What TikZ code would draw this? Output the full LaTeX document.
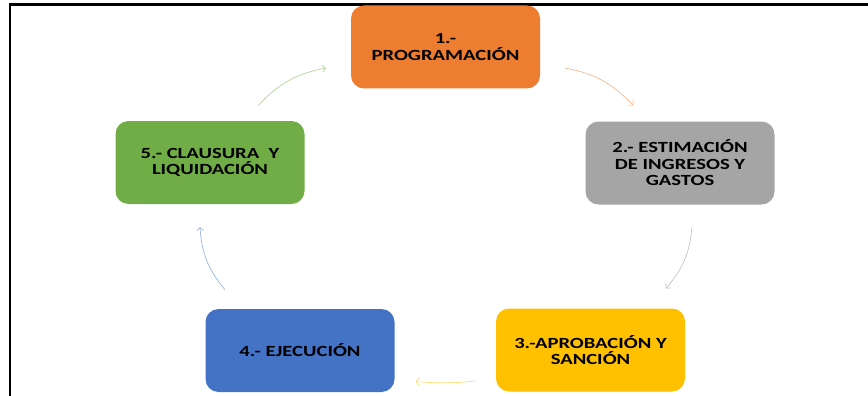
\documentclass[tikz,border=0pt]{standalone}
\usepackage{fontspec}
\setmainfont{Carlito}[FakeStretch=1.33]
\usetikzlibrary{arrows.meta}

\definecolor{naranja}{HTML}{ED7D31}
\definecolor{gris}{HTML}{A5A5A5}
\definecolor{amarillo}{HTML}{FFC000}
\definecolor{azul}{HTML}{4472C4}
\definecolor{verde}{HTML}{70AD47}
\definecolor{naranjaclaro}{HTML}{F4B183}
\definecolor{grisclaro}{HTML}{BFBFBF}
\definecolor{amarilloclaro}{HTML}{FFD966}
\definecolor{azulclaro}{HTML}{8FAADC}
\definecolor{verdeclaro}{HTML}{A9D18E}

\begin{document}
\begin{tikzpicture}
[x=1pt,y=-1pt,
stage/.style={rectangle,rounded corners=13pt,minimum width=189pt,minimum height=83pt,
  align=center,inner sep=2pt,text=black,font=\fontsize{15.5}{16.5}\selectfont\bfseries},
flow/.style={line width=0.6pt,-{Straight Barb[length=3pt,width=7pt]},bend left=18}]
\useasboundingbox (0,0) rectangle (868,396);
\draw[line width=2.4pt] (10,396) -- (10,4.5) -- (868,4.5);
\node (prog) at (445.5,47) [stage,fill=naranja] {1.-\\PROGRAMACIÓN};
\node (esti) at (680,163) [stage,fill=gris] {2.- ESTIMACIÓN\\DE INGRESOS Y\\GASTOS};
\node (apro) at (590.5,350) [stage,fill=amarillo] {3.-APROBACIÓN Y\\SANCIÓN};
\node (ejec) at (300,350.5) [stage,fill=azul] {4.- EJECUCIÓN};
\node (clau) at (210,162.5) [stage,fill=verde] {5.- CLAUSURA\ \ Y\\LIQUIDACIÓN};
\draw[flow,draw=naranjaclaro] ([shift={(25,21)}]prog.east) to ([shift={(-47,-16)}]esti.north);
\draw[flow,draw=grisclaro] ([shift={(12,22)}]esti.south) to ([shift={(75.5,-20)}]apro.north);
\draw[flow,draw=amarilloclaro,bend left=5] ([shift={(-20,31)}]apro.west) to ([shift={(21,31)}]ejec.east);
\draw[flow,draw=azulclaro] ([shift={(-75,-19)}]ejec.north) to ([shift={(-10,23)}]clau.south);
\draw[flow,draw=verdeclaro] ([shift={(48,-15)}]clau.north) to ([shift={(-25,21)}]prog.west);
\end{tikzpicture}
\end{document}
